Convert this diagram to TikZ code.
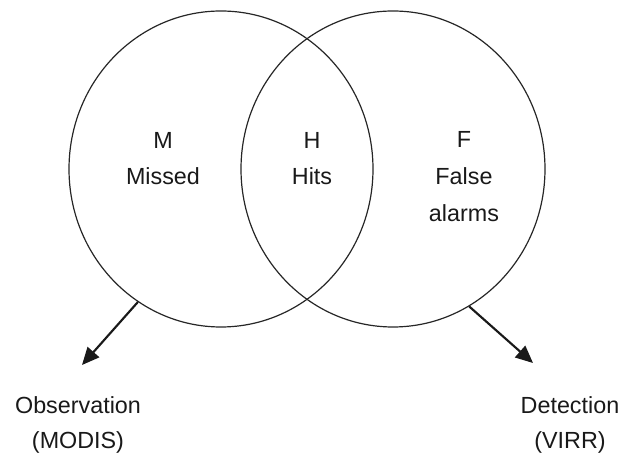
\documentclass[tikz,border=0pt]{standalone}
\usepackage{fontspec}
\setmainfont{Liberation Sans}
\usetikzlibrary{arrows.meta,positioning,shapes.geometric}

\begin{document}
\begin{tikzpicture}[
  x=0.75pt,y=-0.75pt,
  >={Triangle[length=13pt,width=11.5pt]},
  set/.style={draw=black!85, ellipse, line width=0.9pt, minimum width=228pt, minimum height=237pt, inner sep=0pt},
  region/.style={align=center, font=\fontsize{17.5}{27.5}\selectfont, text=black!90},
  source/.style={align=center, font=\fontsize{17.5}{26}\selectfont, text=black!90},
  pointer/.style={->, line width=1.6pt, draw=black!90}
]
\useasboundingbox (0,0) rectangle (622,459);

% Sets
\node[set] (obs) at (221,169) {};
\node[set] (det) at (393,169) {};

% Regions
\node[region] (missed) at (163,158.5) {M\\Missed};
\node[region] (hits) at (312,158.5) {H\\Hits};
\node[region] (false) at (464,176.5) {F\\False\\alarms};

% Sources and arrows
\node[source] (modis) at (78,425) {Observation\\(MODIS)};
\node[source] (virr) at (570,425) {Detection\\(VIRR)};
\coordinate (modistip) at (82,365);
\coordinate (virrtip) at (533,363);
\draw[pointer] (obs.238) -- (modistip);
\draw[pointer] (det.-61) -- (virrtip);

\end{tikzpicture}
\end{document}
